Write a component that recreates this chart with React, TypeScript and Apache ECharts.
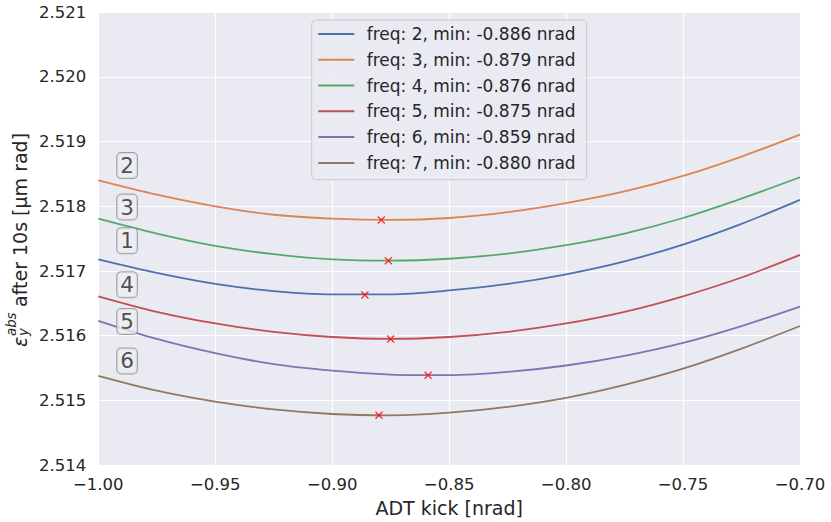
import React, { useEffect, useRef } from "react";
import * as echarts from "echarts";

const FONT = "'DejaVu Sans', sans-serif";
const TEXT = "#262626";

// ADT kick sample positions [nrad]
const kicks = [-1.0, -0.975, -0.95, -0.925, -0.9, -0.875, -0.85, -0.825, -0.8, -0.775, -0.75, -0.725, -0.7];

const freqs = [2, 3, 4, 5, 6, 7];
const minKicks = [-0.886, -0.879, -0.876, -0.875, -0.859, -0.88];
const minValues = [2.51663, 2.51779, 2.51716, 2.51595, 2.51539, 2.51477];

const freq2 = [2.51718, 2.51697, 2.5168, 2.51669, 2.51664, 2.51664, 2.5167, 2.5168, 2.51695, 2.51715, 2.51741, 2.51773, 2.5181];
const freq3 = [2.5184, 2.51818, 2.518, 2.51787, 2.51781, 2.51779, 2.51782, 2.51791, 2.51805, 2.51823, 2.51847, 2.51877, 2.51911];
const freq4 = [2.51781, 2.51758, 2.51739, 2.51726, 2.51718, 2.51716, 2.51719, 2.51727, 2.5174, 2.51758, 2.51782, 2.51812, 2.51845];
const freq5 = [2.51661, 2.51637, 2.51619, 2.51606, 2.51598, 2.51595, 2.51598, 2.51606, 2.51619, 2.51637, 2.51661, 2.5169, 2.51725];
const freq6 = [2.51623, 2.51595, 2.51573, 2.51556, 2.51546, 2.5154, 2.51539, 2.51544, 2.51554, 2.51569, 2.51589, 2.51615, 2.51645];
const freq7 = [2.51538, 2.51515, 2.51498, 2.51486, 2.51479, 2.51477, 2.51481, 2.5149, 2.51504, 2.51524, 2.51549, 2.5158, 2.51615];
const seriesValues = [freq2, freq3, freq4, freq5, freq6, freq7];
const colors = ["#4c72b0", "#dd8452", "#55a868", "#c44e52", "#8172b3", "#937860"];

// boxed annotations at left
const annotationTexts = ["2", "3", "1", "4", "5", "6"];
const annotationX = -0.9877;
const annotationY = [2.51863, 2.51799, 2.51747, 2.51679, 2.51622, 2.51561];

export default function App() {
  const ref = useRef<HTMLDivElement>(null);
  useEffect(() => {
    if (!ref.current) return;
    const chart = echarts.init(ref.current, undefined, { renderer: "svg" });
    const names = freqs.map((f, i) => `freq: ${f}, min: ${minKicks[i].toFixed(3)} nrad`);
    const lineSeries = seriesValues.map((vals, i) => ({
      name: names[i],
      type: "line",
      data: kicks.map((k, j) => [k, vals[j]]),
      smooth: 0.3,
      symbol: "none",
      lineStyle: { color: colors[i], width: 1.8 },
      itemStyle: { color: colors[i] },
      z: 2,
    }));
    const option: any = {
      animation: false,
      backgroundColor: "#ffffff",
      textStyle: { fontFamily: FONT },
      grid: {
        left: 98.3,
        right: 31,
        top: 12.3,
        bottom: 54.3,
        show: true,
        backgroundColor: "#eaeaf2",
        borderWidth: 0,
      },
      xAxis: {
        type: "value",
        min: -1.0,
        max: -0.7,
        interval: 0.05,
        name: "ADT kick [nrad]",
        nameLocation: "middle",
        nameGap: 32,
        nameTextStyle: { fontSize: 19, color: TEXT, fontFamily: FONT },
        axisLine: { show: false },
        axisTick: { show: false },
        axisLabel: {
          fontSize: 16.5,
          color: TEXT,
          fontFamily: FONT,
          margin: 11,
          formatter: (v: number) => v.toFixed(2).replace("-", "\u2212"),
        },
        splitLine: { show: true, lineStyle: { color: "#ffffff", width: 1.2 } },
      },
      yAxis: {
        type: "value",
        min: 2.514,
        max: 2.521,
        interval: 0.001,
        axisLine: { show: false },
        axisTick: { show: false },
        axisLabel: {
          fontSize: 16.5,
          color: TEXT,
          fontFamily: FONT,
          margin: 12,
          formatter: (v: number) => v.toFixed(3),
        },
        splitLine: { show: true, lineStyle: { color: "#ffffff", width: 1.2 } },
      },
      legend: {
        data: names,
        orient: "vertical",
        left: 311.7,
        top: 20,
        icon: "rect",
        itemWidth: 36,
        itemHeight: 2,
        itemGap: 0,
        padding: [1, 11, 4, 6.6],
        backgroundColor: "rgba(234,234,242,0.8)",
        borderColor: "#cccccc",
        borderWidth: 1,
        borderRadius: 4,
        textStyle: {
          fontSize: 17,
          color: TEXT,
          fontFamily: FONT,
          lineHeight: 25.8,
          padding: [0, 0, 0, 7.4],
        },
      },
      series: [
        ...lineSeries,
        {
          name: "minima",
          type: "scatter",
          data: minKicks.map((k, i) => [k, minValues[i]]),
          symbol: "path://M0,0L10,10M10,0L0,10",
          symbolSize: 7,
          itemStyle: { color: "none", borderColor: "#ff0000", borderWidth: 1.3 },
          z: 5,
        },
        {
          name: "labels",
          type: "scatter",
          data: annotationY.map((y, i) => ({ value: [annotationX, y], label: { formatter: annotationTexts[i] } })),
          symbolSize: 0,
          z: 10,
          label: {
            show: true,
            position: "inside",
            fontSize: 21.5,
            fontFamily: FONT,
            color: TEXT,
            lineHeight: 21,
            backgroundColor: "#ececf3",
            borderColor: "#8c8c8c",
            borderWidth: 1,
            borderRadius: 4,
            padding: [2, 3, 2, 3],
          },
        },
      ],
      graphic: [
        {
          type: "group",
          x: 0,
          y: 240,
          rotation: Math.PI / 2,
          children: [
            {
              type: "text",
              x: -107,
              y: 19.5,
              style: { text: "ε", fontSize: 19, fontStyle: "italic", fontFamily: FONT, fill: TEXT, verticalAlign: "middle", align: "left" },
            },
            {
              type: "text",
              x: -96,
              y: 11.2,
              style: { text: "abs", fontSize: 13.3, fontStyle: "italic", fontFamily: FONT, fill: TEXT, verticalAlign: "middle", align: "left" },
            },
            {
              type: "text",
              x: -96,
              y: 23.7,
              style: { text: "y", fontSize: 13.3, fontStyle: "italic", fontFamily: FONT, fill: TEXT, verticalAlign: "middle", align: "left" },
            },
            {
              type: "text",
              x: -67,
              y: 19.5,
              style: { text: "after 10s [μm rad]", fontSize: 19, fontFamily: FONT, fill: TEXT, verticalAlign: "middle", align: "left" },
            },
          ],
        },
      ],
    };
    chart.setOption(option);
    return () => chart.dispose();
  }, []);
  return <div ref={ref} style={{ position: "fixed", left: 0, top: 0, width: 831, height: 522 }} />;
}
